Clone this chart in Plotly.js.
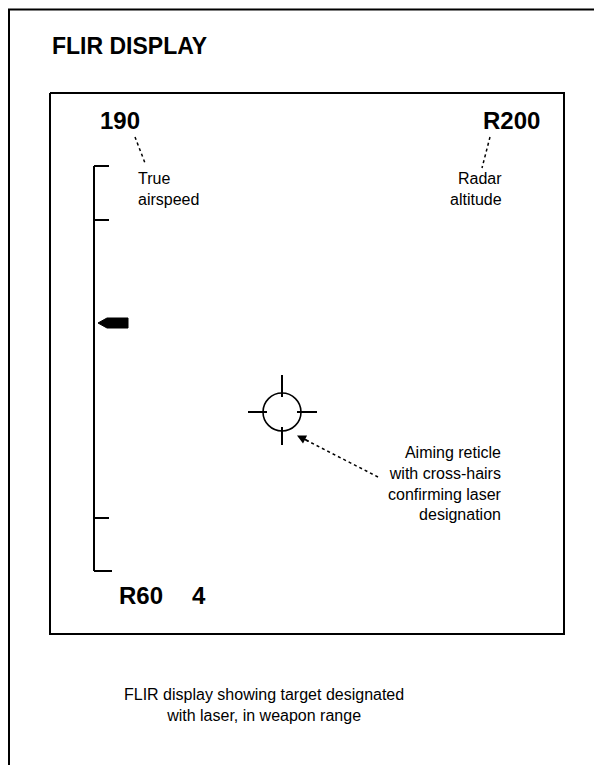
<!DOCTYPE html>
<html>
<head>
<meta charset="utf-8">
<script src="https://cdn.plot.ly/plotly-3.0.1.min.js"></script>
<style>
html,body{margin:0;padding:0;background:#fff;}
#chart{width:594px;height:765px;}
</style>
</head>
<body>
<div id="chart"></div>
<script>
// ---- content (text values) ----
const titleText = 'FLIR DISPLAY';
const readoutLabels = ['190', 'R200', 'R60', '4'];
const calloutTexts = ['True<br>airspeed', 'Radar<br>altitude',
  'Aiming reticle<br>with cross-hairs<br>confirming laser<br>designation'];
const captionLines = ['FLIR display showing target designated', 'with laser, in weapon range'];
// airspeed tape tick marks (diagram units, top to bottom) and pointer level
const tapeTicks = [166, 220, 518, 571];
const tapePointer = [323];

// ---- geometry (diagram coordinates) ----
const BLACK = '#000';
const FONT = 'Liberation Sans, Arial, sans-serif';
const traces = [];
function line(xs, ys, w, dash) {
  traces.push({type:'scatter', mode:'lines', x:xs, y:ys, hoverinfo:'skip',
    line:{color:BLACK, width:w, dash:dash||'solid'}, showlegend:false});
}
// outer frame (left + top only)
line([594, 9, 9], [9.5, 9.5, 765], 2);
// inner display box
line([50, 564, 564, 50, 50], [93, 93, 634, 634, 93], 2);
// tape spine
line([94, 94], [tapeTicks[0], tapeTicks[tapeTicks.length-1]], 2);
tapeTicks.forEach((t, i) => {
  const len = (i === tapeTicks.length-1) ? 18 : 15;
  line([94, 94 + len], [t, t], 2);
});
// pointer
tapePointer.forEach(p => {
  traces.push({type:'scatter', mode:'lines', hoverinfo:'skip', showlegend:false,
    x:[98, 107, 128, 128, 107, 98], y:[p, p-5, p-5, p+5, p+5, p],
    fill:'toself', fillcolor:BLACK, line:{color:BLACK, width:1}});
});
// reticle crosshair ticks
const cx = 282, cy = 412, r = 19;
line([cx, cx], [cy - r - 18, cy - r + 4], 2);
line([cx, cx], [cy + r - 4, cy + r + 14], 2);
line([cx - r - 15, cx - r + 4], [cy, cy], 2);
line([cx + r - 4, cx + r + 16], [cy, cy], 2);
// leader lines
line([135, 145], [137, 163], 1.5, 'dot');
line([490, 482], [137, 168], 1.5, 'dot');
line([378, 300], [477, 437], 1.5, 'dot');

const shapes = [{type:'circle', xref:'x', yref:'y', x0:cx-r, x1:cx+r, y0:cy-r, y1:cy+r,
  line:{color:BLACK, width:1.6}}];

function ann(text, x, y, xa, ya, size, align, bold) {
  return {text: bold ? '<b>' + text + '</b>' : text, x:x, y:y, xref:'x', yref:'y',
    xanchor:xa, yanchor:ya, showarrow:false, align:align||'left',
    font:{family:FONT, size:size, color:BLACK}};
}
const annotations = [
  ann(titleText, 50, 46, 'left', 'middle', 23, 'left', true),
  ann(readoutLabels[0], 98, 120, 'left', 'middle', 24, 'left', true),
  ann(readoutLabels[1], 542, 120, 'right', 'middle', 24, 'right', true),
  ann(readoutLabels[2], 117, 595, 'left', 'middle', 24, 'left', true),
  ann(readoutLabels[3], 190, 595, 'left', 'middle', 24, 'left', true),
  ann(calloutTexts[0], 136, 189, 'left', 'middle', 16, 'left'),
  ann(calloutTexts[1], 504, 189, 'right', 'middle', 16, 'right'),
  ann(calloutTexts[2], 504, 483, 'right', 'middle', 16, 'right'),
  ann(captionLines.join('<br>'), 264, 705, 'center', 'middle', 16, 'center'),
  // arrowhead at reticle end of leader
  {x:297, y:435.5, ax:310, ay:442, xref:'x', yref:'y', axref:'x', ayref:'y', text:'',
   showarrow:true, arrowhead:2, arrowsize:1.2, arrowwidth:1.5, arrowcolor:BLACK}
];

const layout = {
  width:594, height:765, margin:{l:0, r:0, t:0, b:0},
  paper_bgcolor:'#fff', plot_bgcolor:'#fff', showlegend:false,
  xaxis:{range:[0, 594], visible:false, fixedrange:true},
  yaxis:{range:[765, 0], visible:false, fixedrange:true},
  shapes:shapes, annotations:annotations
};
Plotly.newPlot('chart', traces, layout, {displayModeBar:false, staticPlot:true});
</script>
</body>
</html>
